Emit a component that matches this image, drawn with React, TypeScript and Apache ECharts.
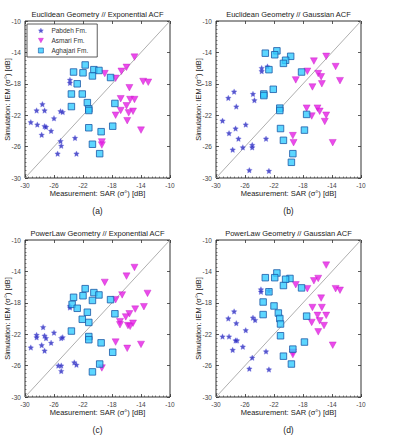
import React, { useEffect, useRef } from "react";
import * as echarts from "echarts";

const titles = [
  "Euclidean Geometry // Exponential ACF",
  "Euclidean Geometry // Gaussian ACF",
  "PowerLaw Geometry // Exponential ACF",
  "PowerLaw Geometry // Gaussian ACF",
];
const captions = ["(a)", "(b)", "(c)", "(d)"];
const seriesNames = ["Pabdeh Fm.", "Asmari Fm.", "Aghajari Fm."];
const majorTicks = [-30, -26, -22, -18, -14, -10];
const xAxisTitle = "Measurement: SAR (σ°) [dB]";
const yAxisTitle = "Simulation: IEM (σ°) [dB]";

const pabdehA = [[-27.6,-20.6],[-28.4,-21.4],[-27.3,-21.4],[-25.1,-21.5],[-24.8,-21.6],[-26.0,-22.4],[-29.2,-22.9],[-28.3,-23.2],[-27.3,-23.4],[-27.1,-23.5],[-26.4,-24.0],[-27.7,-24.5],[-25.1,-25.3],[-23.1,-24.9],[-25.0,-25.9],[-25.5,-26.9],[-22.9,-26.9],[-23.8,-17.5],[-23.8,-17.9]];
const asmariA = [[-14.9,-14.6],[-16.0,-15.9],[-16.7,-16.4],[-19.0,-16.7],[-17.5,-17.3],[-13.7,-17.7],[-13.0,-17.8],[-15.6,-18.5],[-16.8,-19.9],[-15.5,-20.0],[-14.9,-20.0],[-16.0,-20.8],[-16.8,-21.4],[-15.7,-21.7],[-15.1,-21.5],[-17.5,-22.0],[-15.9,-22.7],[-14.0,-23.9],[-19.4,-25.4],[-19.4,-25.8]];
const aghajariA = [[-21.7,-15.6],[-23.3,-16.5],[-22.0,-16.6],[-20.5,-16.2],[-19.8,-16.3],[-20.7,-17.0],[-18.2,-17.2],[-22.8,-18.0],[-23.6,-19.3],[-22.1,-19.3],[-21.4,-20.4],[-23.6,-20.9],[-21.2,-21.2],[-21.2,-21.4],[-17.6,-20.5],[-21.2,-23.6],[-19.5,-24.1],[-17.9,-23.4],[-20.7,-25.7],[-19.7,-26.9]];

const pabdehB = [[-27.5,-19.0],[-28.3,-19.8],[-24.9,-19.3],[-24.7,-20.1],[-27.2,-20.9],[-23.7,-16.0],[-23.7,-16.4],[-22.9,-15.8],[-29.1,-22.7],[-25.9,-23.2],[-27.3,-23.7],[-28.2,-24.3],[-26.9,-25.0],[-23.1,-25.0],[-25.0,-25.8],[-25.0,-26.1],[-26.3,-26.1],[-27.7,-26.4],[-25.4,-29.0],[-22.7,-29.1]];
const asmariB = [[-14.8,-14.5],[-16.5,-15.1],[-13.5,-15.8],[-17.4,-16.4],[-15.9,-16.7],[-15.5,-17.1],[-19.0,-17.5],[-12.9,-17.6],[-15.4,-18.0],[-16.7,-18.4],[-17.5,-21.1],[-16.0,-21.1],[-15.7,-21.5],[-16.8,-22.1],[-14.8,-22.0],[-15.0,-22.8],[-19.4,-24.6],[-19.3,-25.5],[-13.9,-25.5]];
const aghajariB = [[-23.2,-14.1],[-21.6,-13.8],[-21.9,-14.3],[-19.7,-14.5],[-20.4,-15.0],[-20.7,-15.4],[-22.7,-16.2],[-18.2,-16.5],[-22.1,-18.7],[-23.4,-19.3],[-23.4,-19.5],[-21.2,-21.1],[-21.2,-21.4],[-17.5,-21.9],[-21.1,-23.7],[-17.8,-23.9],[-20.7,-25.2],[-19.4,-26.9],[-19.6,-28.0]];

const pabdehC = [[-27.5,-21.1],[-28.4,-22.1],[-28.4,-22.4],[-27.3,-22.2],[-27.1,-22.5],[-26.0,-21.8],[-25.0,-22.5],[-24.8,-22.4],[-29.2,-23.7],[-27.7,-23.4],[-27.3,-24.1],[-26.4,-23.1],[-23.8,-18.4],[-23.8,-18.6],[-25.4,-26.0],[-25.0,-26.0],[-25.0,-26.7],[-23.2,-25.6],[-22.9,-25.9]];
const asmariC = [[-14.9,-13.5],[-16.0,-14.6],[-19.0,-15.4],[-16.6,-17.0],[-13.1,-16.8],[-17.5,-17.6],[-13.6,-18.5],[-14.8,-18.8],[-15.6,-19.4],[-16.1,-19.8],[-16.9,-20.4],[-16.9,-20.8],[-15.8,-20.9],[-15.5,-21.0],[-15.1,-20.6],[-17.5,-23.0],[-14.0,-23.3],[-15.9,-23.8],[-19.4,-26.3]];
const aghajariC = [[-21.7,-16.2],[-23.3,-17.3],[-22.0,-17.1],[-20.5,-16.7],[-19.8,-17.0],[-20.7,-17.7],[-18.2,-17.6],[-23.5,-18.2],[-22.8,-18.7],[-21.4,-19.2],[-17.6,-19.4],[-22.1,-20.1],[-21.2,-20.5],[-23.6,-21.6],[-21.2,-22.3],[-21.2,-22.7],[-19.5,-23.1],[-17.9,-24.3],[-19.7,-25.8],[-20.7,-26.8]];

const pabdehD = [[-27.5,-19.1],[-28.3,-20.0],[-24.9,-19.9],[-24.6,-20.2],[-27.2,-20.6],[-25.9,-21.5],[-23.8,-16.3],[-23.8,-16.6],[-22.7,-16.5],[-29.1,-22.3],[-28.2,-22.3],[-27.1,-22.8],[-27.3,-22.8],[-26.3,-23.6],[-27.7,-24.0],[-23.1,-24.2],[-25.0,-25.0],[-25.4,-26.4],[-22.7,-26.5]];
const asmariD = [[-14.8,-13.2],[-16.5,-15.2],[-15.9,-14.9],[-19.0,-15.7],[-17.4,-16.2],[-13.5,-16.2],[-12.9,-16.4],[-15.5,-17.4],[-16.7,-18.6],[-15.4,-18.6],[-16.0,-19.6],[-14.8,-19.6],[-16.8,-20.5],[-15.7,-20.3],[-15.1,-20.9],[-15.9,-21.7],[-13.9,-23.4],[-19.4,-24.3],[-19.4,-24.6]];
const aghajariD = [[-23.2,-14.8],[-21.6,-14.2],[-21.9,-14.8],[-19.8,-14.9],[-20.4,-15.0],[-20.7,-15.8],[-18.2,-16.1],[-22.7,-16.6],[-23.5,-17.9],[-22.0,-18.4],[-21.4,-19.3],[-23.5,-19.5],[-21.2,-20.0],[-17.5,-19.7],[-21.1,-20.7],[-21.1,-22.2],[-17.8,-23.0],[-19.4,-23.9],[-20.7,-24.8],[-19.6,-25.8]];

const panels = [
  [pabdehA, asmariA, aghajariA],
  [pabdehB, asmariB, aghajariB],
  [pabdehC, asmariC, aghajariC],
  [pabdehD, asmariD, aghajariD],
];

const STAR =
  "path://M0,-10L2.9,-4L9.5,-3.1L4.8,1.5L5.9,8.1L0,5L-5.9,8.1L-4.8,1.5L-9.5,-3.1L-2.9,-4Z";
const TRI_DOWN = "path://M0,0L10,0L5,9Z";

export default function App() {
  const ref = useRef<HTMLDivElement>(null);
  useEffect(() => {
    if (!ref.current) return;
    const chart = echarts.init(ref.current, null, { renderer: "svg" });
    const FONT = "Liberation Sans, Arial, sans-serif";
    const gridPos = [
      { left: 25, top: 21, width: 145, height: 157 },
      { left: 216, top: 21, width: 145, height: 157 },
      { left: 25, top: 240, width: 145, height: 157 },
      { left: 216, top: 240, width: 145, height: 157 },
    ];
    const styles = [
      { color: "#2c2cbf", borderColor: "rgba(120,120,230,0.55)", borderWidth: 0.8 },
      { color: "#e61ee6", borderColor: "#c21ac2", borderWidth: 0.5 },
      { color: "#33ccff", borderColor: "#1c5aa8", borderWidth: 1 },
    ];
    const grids: any[] = [];
    const xAxes: any[] = [];
    const yAxes: any[] = [];
    const series: any[] = [];
    const graphics: any[] = [];
    const lineCol = "#333";
    gridPos.forEach((g, i) => {
      grids.push({ ...g, show: true, borderColor: lineCol, borderWidth: 1, backgroundColor: "#fff" });
      const base = { gridIndex: i, type: "value", min: -30, max: -10, splitLine: { show: false } };
      const mk = (pos: string, withLabels: boolean) => ({
        ...base,
        position: pos,
        axisLine: { show: false },
        axisTick: { show: true, inside: true, length: 3, customValues: majorTicks, lineStyle: { color: lineCol, width: 0.8 } },
        axisLabel: withLabels
          ? { show: true, customValues: majorTicks, fontSize: 6.5, color: "#444", fontFamily: FONT, margin: 4 }
          : { show: false },
      });
      const mkMinor = (pos: string) => ({
        ...base,
        position: pos,
        interval: 0.5,
        axisLine: { show: false },
        axisTick: { show: true, inside: true, length: 1.5, lineStyle: { color: lineCol, width: 0.6 } },
        axisLabel: { show: false },
      });
      xAxes.push(mk("bottom", true), mkMinor("bottom"), { ...mk("top", false) });
      yAxes.push(mk("left", true), mkMinor("left"), { ...mk("right", false) });
      const xi = i * 3;
      series.push({
        type: "line",
        xAxisIndex: xi,
        yAxisIndex: xi,
        data: [[-30, -30], [-10, -10]],
        symbol: "none",
        lineStyle: { color: "#999", width: 0.8 },
        silent: true,
        z: 1,
      });
      const [p, a, g2] = panels[i];
      series.push({
        name: seriesNames[0],
        type: "scatter",
        xAxisIndex: xi,
        yAxisIndex: xi,
        data: p,
        symbol: STAR,
        symbolSize: 5.5,
        itemStyle: styles[0],
        z: 3,
      });
      series.push({
        name: seriesNames[1],
        type: "scatter",
        xAxisIndex: xi,
        yAxisIndex: xi,
        data: a,
        symbol: TRI_DOWN,
        symbolSize: [7, 6.5],
        itemStyle: styles[1],
        z: 3,
      });
      series.push({
        name: seriesNames[2],
        type: "scatter",
        xAxisIndex: xi,
        yAxisIndex: xi,
        data: g2,
        symbol: "rect",
        symbolSize: 6.5,
        itemStyle: styles[2],
        z: 3,
      });
      const cx = g.left + g.width / 2;
      const bottom = g.top + g.height;
      graphics.push({
        type: "text",
        x: cx,
        y: g.top - 7,
        style: { text: titles[i], textAlign: "center", textVerticalAlign: "middle", fontSize: 7.5, fontFamily: FONT, fill: "#222" },
      });
      graphics.push({
        type: "text",
        x: cx,
        y: bottom + 15,
        style: { text: xAxisTitle, textAlign: "center", textVerticalAlign: "middle", fontSize: 7.5, fontFamily: FONT, fill: "#222" },
      });
      graphics.push({
        type: "text",
        x: cx,
        y: bottom + 33,
        style: { text: captions[i], textAlign: "center", textVerticalAlign: "middle", fontSize: 8.5, fontFamily: FONT, fill: "#222" },
      });
      graphics.push({
        type: "text",
        x: g.left - 18,
        y: g.top + g.height / 2,
        rotation: Math.PI / 2,
        style: { text: yAxisTitle, textAlign: "center", textVerticalAlign: "middle", fontSize: 7.5, fontFamily: FONT, fill: "#222" },
      });
    });

    chart.setOption({
      animation: false,
      backgroundColor: "#fff",
      grid: grids,
      xAxis: xAxes,
      yAxis: yAxes,
      series,
      graphic: graphics,
      legend: {
        data: [
          { name: seriesNames[0], icon: STAR, itemStyle: styles[0] },
          { name: seriesNames[1], icon: TRI_DOWN, itemStyle: styles[1] },
          { name: seriesNames[2], icon: "rect", itemStyle: { ...styles[2], borderWidth: 0.8 } },
        ],
        orient: "vertical",
        left: 27,
        top: 24,
        padding: [3, 9, 3, 11],
        itemWidth: 5,
        itemHeight: 5,
        itemGap: 3,
        borderColor: "#333",
        borderWidth: 0.8,
        backgroundColor: "#fff",
        textStyle: { fontSize: 6.5, fontFamily: FONT, color: "#333", padding: [0, 0, 0, 3] },
        selectedMode: false,
      },
    });
    return () => chart.dispose();
  }, []);
  return (
    <div
      ref={ref}
      style={{ position: "absolute", left: 0, top: 0, width: 397, height: 436, background: "#fff" }}
    />
  );
}
